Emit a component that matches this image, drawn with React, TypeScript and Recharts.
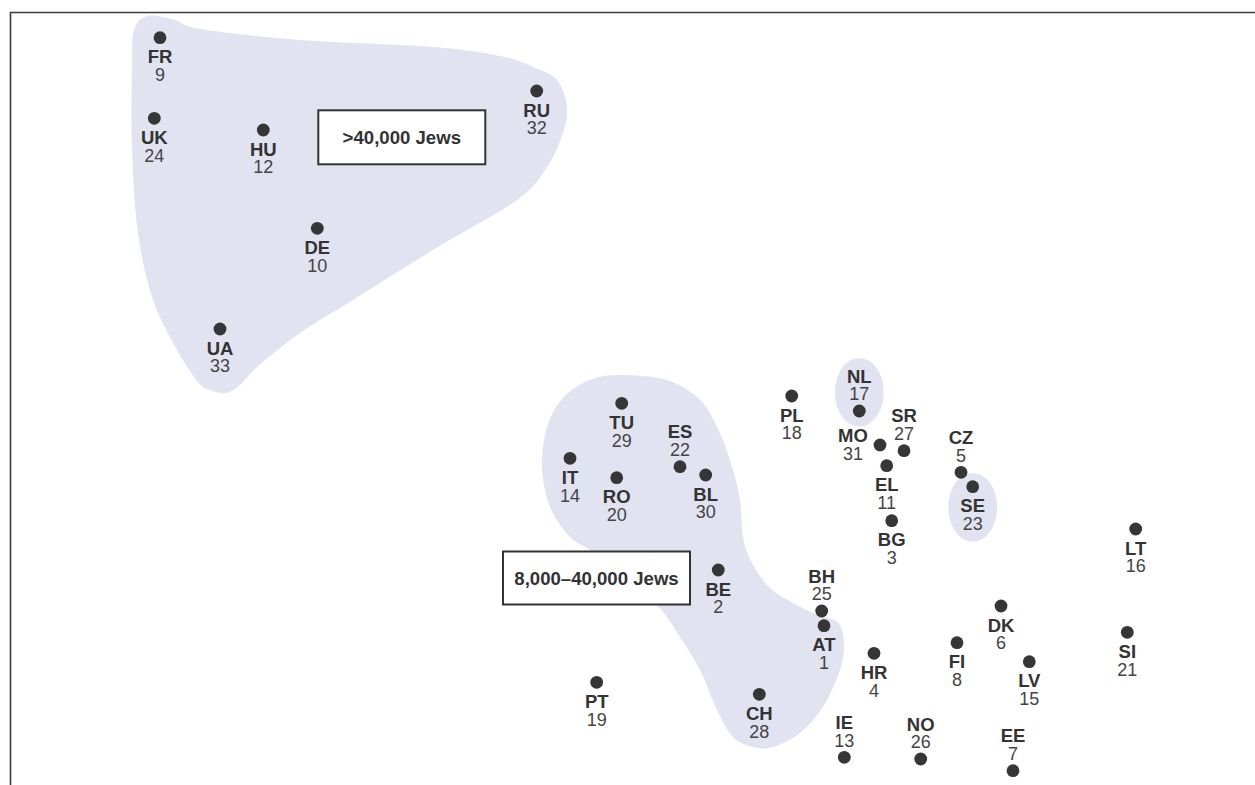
import React from "react";
import { ScatterChart, Scatter, XAxis, YAxis } from "recharts";

// Country points (position on the map of the plot, code, number)
const countries = [
  { code: "FR", num: 9, x: 160, y: 37.7 },
  { code: "UK", num: 24, x: 154.3, y: 118.3 },
  { code: "HU", num: 12, x: 263.3, y: 130 },
  { code: "RU", num: 32, x: 536.7, y: 91 },
  { code: "DE", num: 10, x: 317.3, y: 228.3 },
  { code: "UA", num: 33, x: 220, y: 329 },
  { code: "TU", num: 29, x: 621.7, y: 403.3 },
  { code: "IT", num: 14, x: 570, y: 458.3 },
  { code: "RO", num: 20, x: 616.7, y: 477.7 },
  { code: "ES", num: 22, x: 680, y: 466.7 },
  { code: "BL", num: 30, x: 705.7, y: 475 },
  { code: "BE", num: 2, x: 718.3, y: 570 },
  { code: "BH", num: 25, x: 821.7, y: 611 },
  { code: "AT", num: 1, x: 824, y: 625.7 },
  { code: "HR", num: 4, x: 874, y: 653.3 },
  { code: "PT", num: 19, x: 596.7, y: 682.3 },
  { code: "CH", num: 28, x: 759.3, y: 694.3 },
  { code: "IE", num: 13, x: 844.3, y: 757.3 },
  { code: "PL", num: 18, x: 791.7, y: 396 },
  { code: "NL", num: 17, x: 859.3, y: 411 },
  { code: "MO", num: 31, x: 880, y: 445 },
  { code: "SR", num: 27, x: 904, y: 450.7 },
  { code: "EL", num: 11, x: 886.7, y: 465.7 },
  { code: "BG", num: 3, x: 891.7, y: 520.7 },
  { code: "CZ", num: 5, x: 961, y: 472.3 },
  { code: "SE", num: 23, x: 972.7, y: 486.7 },
  { code: "LT", num: 16, x: 1135.7, y: 529 },
  { code: "DK", num: 6, x: 1001, y: 606 },
  { code: "SI", num: 21, x: 1127.3, y: 632.3 },
  { code: "FI", num: 8, x: 957, y: 642.7 },
  { code: "LV", num: 15, x: 1029.3, y: 661.7 },
  { code: "NO", num: 26, x: 920.7, y: 759 },
  { code: "EE", num: 7, x: 1013, y: 770.7 },
];

// Label placement groups
const labelsAbove = ["ES", "BH", "IE", "NO", "EE", "SR", "CZ", "NL"];
const labelsLeft = ["MO"];

// Group outline (>40,000 Jews)
const groupLarge = [
  { x: 148, y: 16 }, { x: 175, y: 20 }, { x: 200, y: 29 }, { x: 300, y: 40 },
  { x: 433, y: 47 }, { x: 500, y: 56 }, { x: 533, y: 67 }, { x: 557, y: 80 },
  { x: 567, y: 107 }, { x: 563, y: 133 }, { x: 547, y: 167 }, { x: 517, y: 200 },
  { x: 433, y: 250 }, { x: 353, y: 300 }, { x: 300, y: 333 }, { x: 257, y: 367 },
  { x: 240, y: 385 }, { x: 226, y: 393 }, { x: 210, y: 390 }, { x: 198, y: 382 },
  { x: 177, y: 350 }, { x: 153, y: 300 }, { x: 138, y: 233 }, { x: 132, y: 150 },
  { x: 132, y: 67 }, { x: 134, y: 30 },
];

// Group outline (8,000–40,000 Jews)
const groupMedium = [
  { x: 620, y: 375 }, { x: 667, y: 380 }, { x: 700, y: 400 }, { x: 720, y: 433 },
  { x: 733, y: 470 }, { x: 740, y: 500 }, { x: 743, y: 537 }, { x: 752, y: 563 },
  { x: 770, y: 588 }, { x: 793, y: 603 }, { x: 813, y: 613 }, { x: 828, y: 618 },
  { x: 839, y: 624 }, { x: 844, y: 643 }, { x: 840, y: 670 }, { x: 823, y: 707 },
  { x: 800, y: 733 }, { x: 773, y: 747 }, { x: 753, y: 747 }, { x: 733, y: 737 },
  { x: 717, y: 710 }, { x: 700, y: 670 }, { x: 680, y: 637 }, { x: 657, y: 605 },
  { x: 620, y: 575 }, { x: 590, y: 550 }, { x: 570, y: 537 }, { x: 550, y: 507 },
  { x: 542, y: 467 }, { x: 547, y: 427 }, { x: 563, y: 398 }, { x: 590, y: 380 },
];

// Small single-country groups (centres)
const groupSmall = [
  { x: 859.3, y: 392.3 },
  { x: 972.7, y: 507.3 },
];

// Legend boxes (corner points) and texts
const boxLargeCorners = [{ x: 318.3, y: 110.3 }, { x: 485.3, y: 164.3 }];
const boxMediumCorners = [{ x: 503, y: 551.5 }, { x: 690, y: 604.5 }];
const boxLargeText = ">40,000 Jews";
const boxMediumText = "8,000–40,000 Jews";

// Frame (top and left edges)
const frame = [{ x: 1255, y: 12.5 }, { x: 10.5, y: 12.5 }, { x: 10.5, y: 785 }];

const FONT = "'Liberation Sans', Arial, Helvetica, sans-serif";
const BLOB = "#e1e3f0";
const INK = "#333333";

function closedSmoothPath(pts: { x: number; y: number }[]) {
  const n = pts.length;
  if (!n) return "";
  let d = `M${pts[0].x},${pts[0].y}`;
  for (let i = 0; i < n; i++) {
    const p0 = pts[(i - 1 + n) % n];
    const p1 = pts[i];
    const p2 = pts[(i + 1) % n];
    const p3 = pts[(i + 2) % n];
    const c1x = p1.x + (p2.x - p0.x) / 6;
    const c1y = p1.y + (p2.y - p0.y) / 6;
    const c2x = p2.x - (p3.x - p1.x) / 6;
    const c2y = p2.y - (p3.y - p1.y) / 6;
    d += ` C${c1x},${c1y} ${c2x},${c2y} ${p2.x},${p2.y}`;
  }
  return d + "Z";
}

const Empty = () => <g />;

const BlobLine = (props: any) => (
  <path d={closedSmoothPath(props.points || [])} fill={BLOB} stroke="none" />
);

const makeBoxLine = (text: string) => (props: any) => {
  const pts = props.points || [];
  if (pts.length < 2) return <g />;
  const x = Math.min(pts[0].x, pts[1].x);
  const y = Math.min(pts[0].y, pts[1].y);
  const w = Math.abs(pts[1].x - pts[0].x);
  const h = Math.abs(pts[1].y - pts[0].y);
  return (
    <g>
      <rect x={x} y={y} width={w} height={h} fill="#ffffff" stroke={INK} strokeWidth={2} />
      <text
        x={x + w / 2}
        y={y + h / 2 + 6.6}
        textAnchor="middle"
        fontFamily={FONT}
        fontWeight="bold"
        fontSize={18.6}
        fill={INK}
      >
        {text}
      </text>
    </g>
  );
};

const FrameLine = (props: any) => {
  const pts = props.points || [];
  const d = pts.map((p: any, i: number) => `${i ? "L" : "M"}${p.x},${p.y}`).join(" ");
  return <path d={d} fill="none" stroke="#3c3c3c" strokeWidth={1.6} />;
};

const EllipseShape = (props: any) => (
  <ellipse cx={props.cx} cy={props.cy} rx={24.5} ry={34.3} fill={BLOB} />
);

const CountryShape = (props: any) => {
  const { cx, cy, payload } = props;
  const code = payload.code;
  let lx = cx;
  let y1 = cy + 25.6;
  let y2 = cy + 43.4;
  if (labelsAbove.includes(code)) {
    y1 = cy - 28.4;
    y2 = cy - 10.6;
  } else if (labelsLeft.includes(code)) {
    lx = cx - 27;
    y1 = cy - 3.2;
    y2 = cy + 15;
  }
  return (
    <g>
      <circle cx={cx} cy={cy} r={6.4} fill="#363636" />
      <text x={lx} y={y1} textAnchor="middle" fontFamily={FONT} fontWeight="bold" fontSize={18.5} fill={INK}>
        {code}
      </text>
      <text x={lx} y={y2} textAnchor="middle" fontFamily={FONT} fontSize={18} fill="#444444">
        {payload.num}
      </text>
    </g>
  );
};

export default function App() {
  return (
    <div style={{ position: "absolute", left: 0, top: 0, width: 1255, height: 785, background: "#fff" }}>
      <ScatterChart width={1255} height={785} margin={{ top: 0, right: 0, bottom: 0, left: 0 }}>
        <XAxis type="number" dataKey="x" domain={[0, 1255]} hide allowDataOverflow />
        <YAxis type="number" dataKey="y" domain={[0, 785]} reversed hide allowDataOverflow />
        <Scatter data={frame} line={FrameLine} lineType="joint" shape={Empty} isAnimationActive={false} />
        <Scatter data={groupLarge} line={BlobLine} lineType="joint" shape={Empty} isAnimationActive={false} />
        <Scatter data={groupMedium} line={BlobLine} lineType="joint" shape={Empty} isAnimationActive={false} />
        <Scatter data={groupSmall} shape={EllipseShape} isAnimationActive={false} />
        <Scatter data={boxLargeCorners} line={makeBoxLine(boxLargeText)} lineType="joint" shape={Empty} isAnimationActive={false} />
        <Scatter data={boxMediumCorners} line={makeBoxLine(boxMediumText)} lineType="joint" shape={Empty} isAnimationActive={false} />
        <Scatter data={countries} shape={CountryShape} isAnimationActive={false} />
      </ScatterChart>
    </div>
  );
}
